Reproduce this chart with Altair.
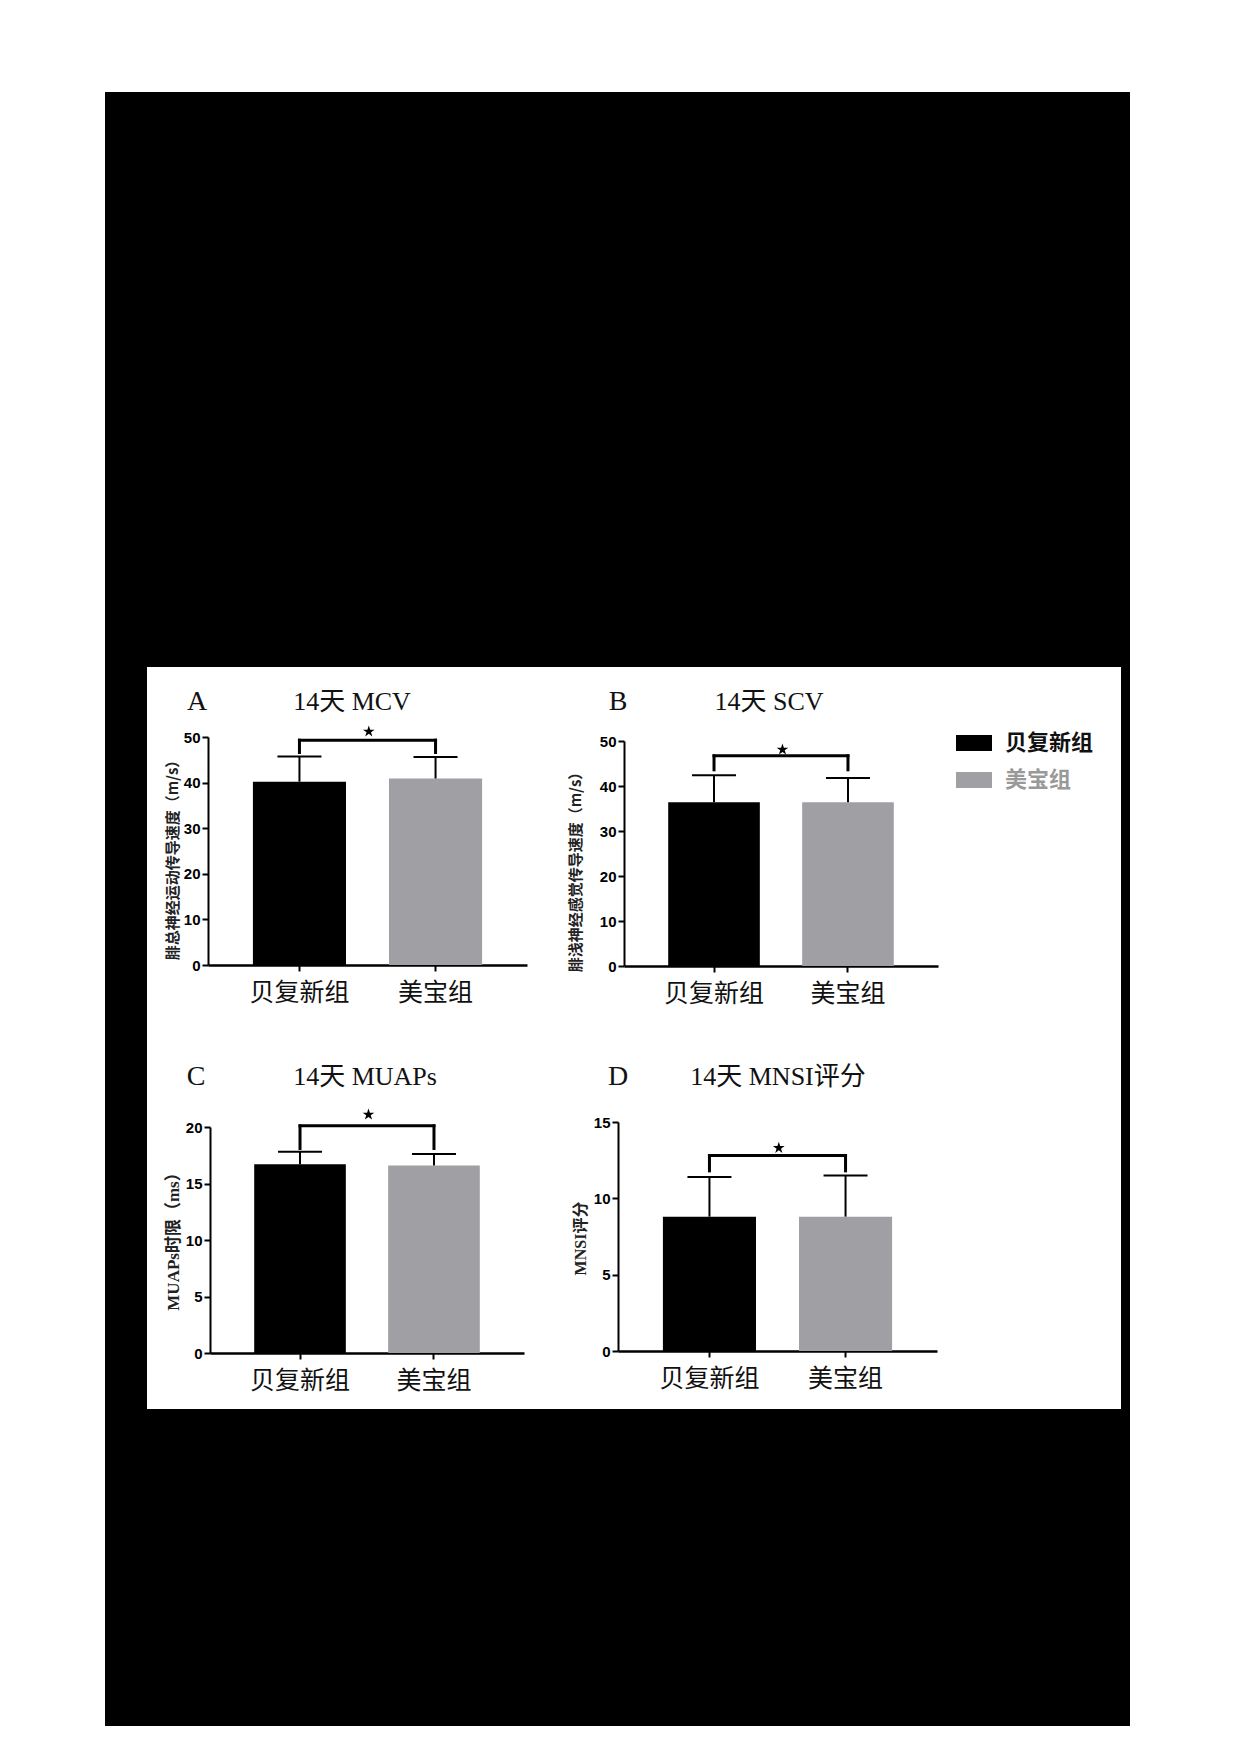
import altair as alt
import pandas as pd

# ---------------- data ----------------
groups = ["贝复新组", "美宝组"]
panel_letters = ["A", "B", "C", "D"]
panel_titles = ["14天 MCV", "14天 SCV", "14天 MUAPs", "14天 MNSI评分"]
y_titles = ["腓总神经运动传导速度（m/s）", "腓浅神经感觉传导速度（m/s）", "MUAPs时限（ms）", "MNSI评分"]
y_max = [50, 50, 20, 15]
y_step = [10, 10, 5, 5]

mcv_mean = [40.2, 40.9]
mcv_upper = [45.7, 45.6]
scv_mean = [36.4, 36.4]
scv_upper = [42.4, 41.8]
muaps_mean = [16.7, 16.6]
muaps_upper = [17.8, 17.6]
mnsi_mean = [8.8, 8.8]
mnsi_upper = [11.4, 11.5]

bracket_top = [49.3, 46.7, 20.1, 12.8]
bracket_leg = [46.6, 43.6, 18.1, 11.8]
star_level = [51.2, 48.1, 21.1, 13.3]

# ---------------- layout (page pixels) ----------------
OFF = 8
W, H = 1130, 1722
P_IN, P_OUT = 0.316, 0.33
# x0, x1, y_zero, y_top
layout = [
    (208, 527, 965, 737),
    (624, 938, 966, 741),
    (210, 524, 1353, 1127),
    (618, 937, 1351, 1122),
]
ytitle_pos = [(172, 856), (575, 868), (173, 1237), (580, 1238)]
ytitle_font = ["Noto Sans CJK SC", "Noto Sans CJK SC",
               "Liberation Serif, Noto Sans CJK SC", "Liberation Serif, Noto Sans CJK SC"]
ytitle_size = [15, 15, 17, 16]
letter_pos = [(197, 702), (618, 702), (196, 1077), (618, 1077)]
title_pos = [(352, 702), (769, 702), (365, 1077), (778, 1077)]
# legend entries: (rect x0, x1, y0, y1, text x, text y, text colour)
legend_pos = [(956, 992, 735, 751, 1005, 743, "#111111"),
              (956, 992, 772, 788, 1005, 780, "#999999")]

GRAY = "#a0a0a4"
SANS_B = "Liberation Sans"
CJK = "Noto Sans CJK SC"
STAR = ("M0,-1L0.225,-0.309L0.951,-0.309L0.363,0.118L0.588,0.809L0,0.382"
        "L-0.588,0.809L-0.363,0.118L-0.951,-0.309L-0.225,-0.309Z")

color_scale = alt.Scale(domain=groups, range=["#000000", GRAY])


def make_panel(i, mean, upper):
    x0, x1, yz, yt = layout[i]
    df = pd.DataFrame({"group": groups, "mean": mean, "upper": upper})

    def xs():
        return alt.Scale(domain=groups, range=[x0 - OFF, x1 - OFF],
                         paddingInner=P_IN, paddingOuter=P_OUT)

    def ys():
        return alt.Scale(domain=[0, y_max[i]], range=[yz - OFF, yt - OFF], nice=False, zero=True)

    step = (x1 - x0) / (2 - P_IN + 2 * P_OUT)

    xaxis = alt.Axis(
        orient="bottom", offset=(yz - OFF) - H, title=None, labelAngle=0,
        labelFont=CJK, labelFontSize=25, labelColor="#111111", labelPadding=9,
        tickSize=6, tickWidth=2, tickColor="black",
        domainWidth=2.5, domainColor="black", grid=False,
    )
    tx, ty = ytitle_pos[i]
    yaxis = alt.Axis(
        orient="left", offset=-(x0 - OFF),
        values=list(range(0, y_max[i] + 1, y_step[i])),
        labelFont=SANS_B, labelFontSize=15, labelFontWeight="bold", labelColor="black",
        labelPadding=2, tickSize=6, tickWidth=2, tickColor="black",
        domainWidth=2, domainColor="black", grid=False,
        title=y_titles[i], titleFont=ytitle_font[i], titleFontSize=ytitle_size[i],
        titleFontWeight="bold", titleColor="#222222",
        titleX=tx - x0, titleY=ty - OFF, titleAngle=270,
        titleAlign="center", titleBaseline="middle",
    )

    base = alt.Chart(df)
    bars = base.mark_bar().encode(
        x=alt.X("group:N", scale=xs(), axis=xaxis),
        y=alt.Y("mean:Q", scale=ys(), axis=yaxis),
        color=alt.Color("group:N", scale=color_scale, legend=None),
    )
    err = base.mark_rule(strokeWidth=2, color="black").encode(
        x=alt.X("group:N", scale=xs(), axis=None),
        y=alt.Y("mean:Q", scale=ys(), axis=None),
        y2="upper:Q",
    )
    cap = base.mark_tick(size=44, thickness=2, color="black", orient="horizontal", opacity=1).encode(
        x=alt.X("group:N", scale=xs(), axis=None),
        y=alt.Y("upper:Q", scale=ys(), axis=None),
    )
    br_df = pd.DataFrame({"g1": [groups[0]], "g2": [groups[1]],
                          "top": [bracket_top[i]], "star": [star_level[i]]})
    leg_df = pd.DataFrame({"group": groups, "top": [bracket_top[i]] * 2,
                           "leg": [bracket_leg[i]] * 2})
    br = alt.Chart(br_df).mark_rule(strokeWidth=3, color="black", strokeCap="square").encode(
        x=alt.X("g1:N", scale=xs(), axis=None),
        x2="g2:N",
        y=alt.Y("top:Q", scale=ys(), axis=None),
    )
    legs = alt.Chart(leg_df).mark_rule(strokeWidth=3, color="black", strokeCap="square").encode(
        x=alt.X("group:N", scale=xs(), axis=None),
        y=alt.Y("top:Q", scale=ys(), axis=None),
        y2="leg:Q",
    )
    star = alt.Chart(br_df).mark_point(
        shape=STAR, filled=True, size=150, color="black", opacity=1, strokeWidth=0,
    ).encode(
        x=alt.X("g1:N", scale=xs(), axis=None),
        xOffset=alt.value(step / 2 + 13),
        y=alt.Y("star:Q", scale=ys(), axis=None),
    )
    return [bars, err, cap, br, legs, star]


layers = []
layers += make_panel(0, mcv_mean, mcv_upper)
layers += make_panel(1, scv_mean, scv_upper)
layers += make_panel(2, muaps_mean, muaps_upper)
layers += make_panel(3, mnsi_mean, mnsi_upper)

one_row = pd.DataFrame({"k": [0]})


def strip(xa, xb, ya, yb):
    return alt.Chart(one_row).mark_rect(color="black").encode(
        x=alt.value(xa - OFF), x2=alt.value(xb - OFF),
        y=alt.value(ya - OFF), y2=alt.value(yb - OFF),
    )


# black page frame around the white figure panel (147..1121, 667..1409)
frame = [
    strip(105, 1130, 92, 667),
    strip(105, 1130, 1409, 1726),
    strip(105, 147, 667, 1409),
    strip(1121, 1130, 667, 1409),
]

# legend (drawn with the same colour scale as the bars)
legend_layers = []
for k, g in enumerate(groups):
    rx0, rx1, ry0, ry1, lx, ly, lc = legend_pos[k]
    gdf = pd.DataFrame({"group": [g]})
    legend_layers.append(alt.Chart(gdf).mark_rect().encode(
        x=alt.value(rx0 - OFF), x2=alt.value(rx1 - OFF),
        y=alt.value(ry0 - OFF), y2=alt.value(ry1 - OFF),
        color=alt.Color("group:N", scale=color_scale, legend=None),
    ))
    legend_layers.append(alt.Chart(gdf).mark_text(
        font=CJK, fontSize=22, fontWeight="bold", color=lc,
        align="left", baseline="middle",
    ).encode(text="group:N", x=alt.value(lx - OFF), y=alt.value(ly - OFF)))

texts = []
for i in range(4):
    lx, ly = letter_pos[i]
    texts.append(alt.Chart(pd.DataFrame({"label": [panel_letters[i]]})).mark_text(
        font="Liberation Serif", fontSize=28, color="#111111",
        align="center", baseline="middle",
    ).encode(text="label:N", x=alt.value(lx - OFF), y=alt.value(ly - OFF)))
    tx, ty = title_pos[i]
    texts.append(alt.Chart(pd.DataFrame({"label": [panel_titles[i]]})).mark_text(
        font="Liberation Serif, Noto Sans CJK SC", fontSize=26,
        color="#111111", align="center", baseline="middle",
    ).encode(text="label:N", x=alt.value(tx - OFF), y=alt.value(ty - OFF)))

chart = alt.layer(*layers, *frame, *legend_layers, *texts).resolve_scale(
    x="independent", y="independent"
).properties(
    width=W, height=H, padding=0
).configure_view(stroke=None)

chart.save("out.html", embed_options={"renderer": "svg", "actions": False})
